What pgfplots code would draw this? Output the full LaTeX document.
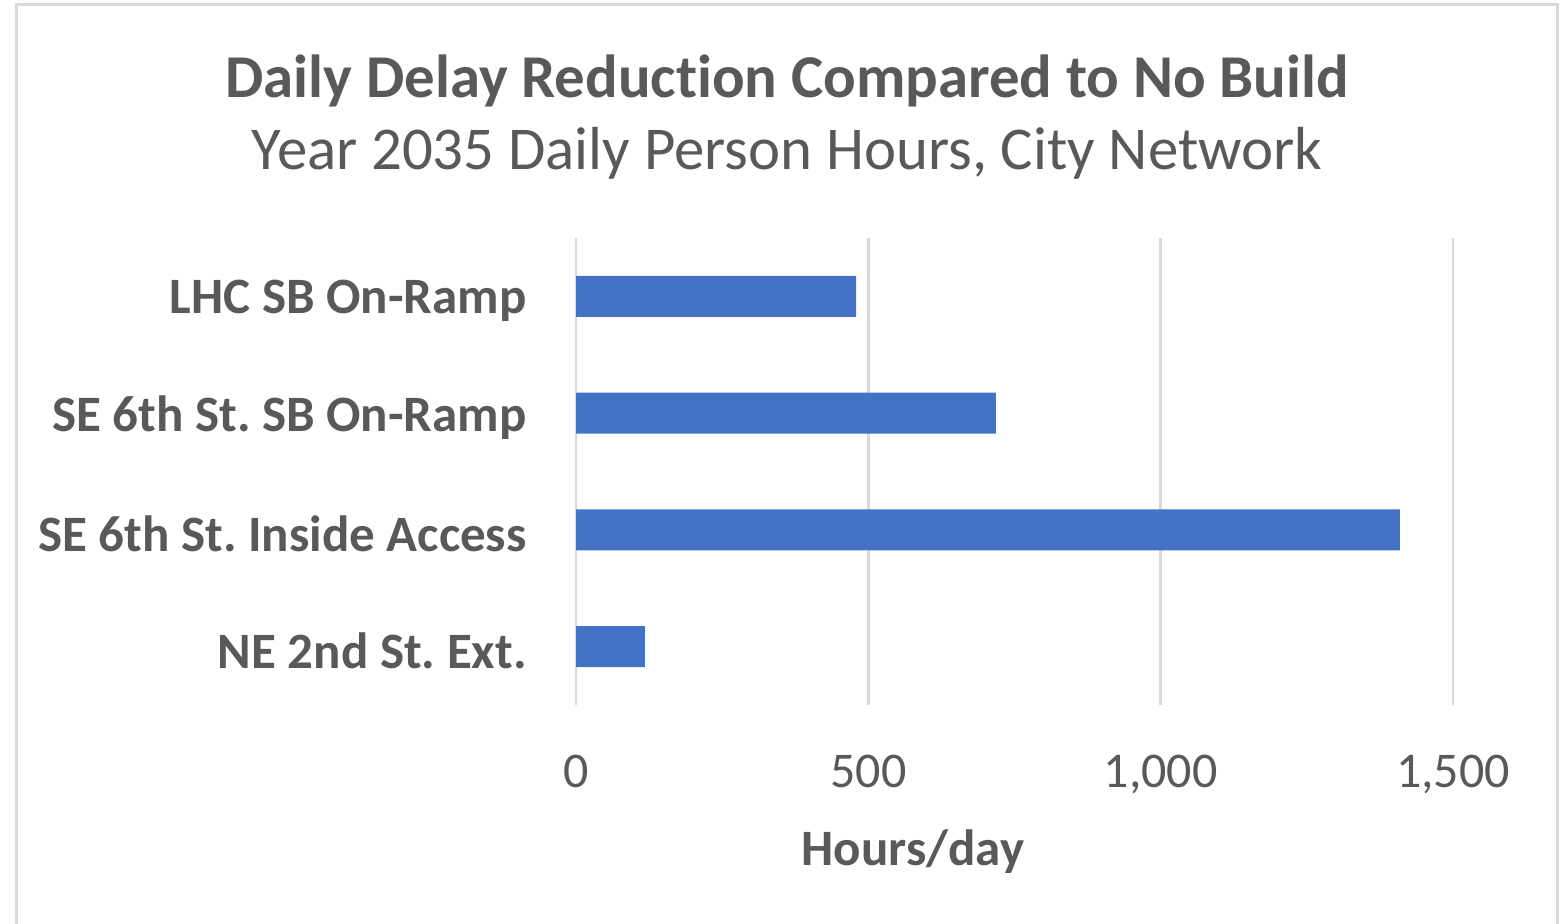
\documentclass[border=0pt]{standalone}
\usepackage{fontspec}
\setmainfont{Carlito}[Ligatures={NoCommon}]
\usepackage{pgfplots}
\pgfplotsset{compat=1.18}
\definecolor{barblue}{HTML}{4472C4}
\definecolor{txt}{HTML}{595959}
\definecolor{gridc}{HTML}{D9D9D9}
\frenchspacing
\begin{document}
\begin{tikzpicture}
\useasboundingbox (0,0) rectangle (781.5pt,462pt);
\draw[gridc, line width=1.5pt] (8.25pt,-2pt) -- (8.25pt,459.5pt) -- (778.75pt,459.5pt) -- (778.75pt,-2pt);
\node[txt, anchor=base, font=\bfseries\fontsize{30.4}{36}\selectfont, inner sep=0pt] at (393.5pt,413pt) {Daily Delay Reduction Compared to No Build};
\node[txt, anchor=base, font=\fontsize{30.4}{36}\selectfont, inner sep=0pt] at (393.5pt,377pt) {Year 2035 Daily Person Hours, City Network};
\begin{axis}[
  at={(288pt,109.5pt)}, anchor=south west,
  scale only axis, width=438.5pt, height=233.5pt,
  xbar, bar width=0.35,
  xmin=0, xmax=1500, ymin=-0.5, ymax=3.5,
  xtick={0,500,1000,1500},
  ytick={0,1,2,3},
  yticklabels={NE 2nd St. Ext., SE 6th St. Inside Access, SE 6th St. SB On-Ramp, LHC SB On-Ramp},
  axis line style={draw=none},
  major tick length=0pt,
  xmajorgrids, grid style={gridc, line width=1.2pt},
  /pgf/number format/1000 sep={,},
  /pgf/number format/assume math mode=true,
  tick label style={txt},
  x tick label style={font=\fontsize{25}{30}\selectfont, anchor=north, inner sep=0pt, yshift=-25pt},
  y tick label style={font=\bfseries\fontsize{25.5}{30}\selectfont, anchor=east, inner sep=0pt, xshift=-24.5pt, yshift=-2pt},
]
\addplot[fill=barblue, draw=none] coordinates {(118,0) (1409,1) (718,2) (479,3)};
\end{axis}
\node[txt, anchor=base, font=\bfseries\fontsize{25.5}{30}\selectfont, inner sep=0pt] at (456.5pt,29pt) {Hours/day};
\end{tikzpicture}
\end{document}
